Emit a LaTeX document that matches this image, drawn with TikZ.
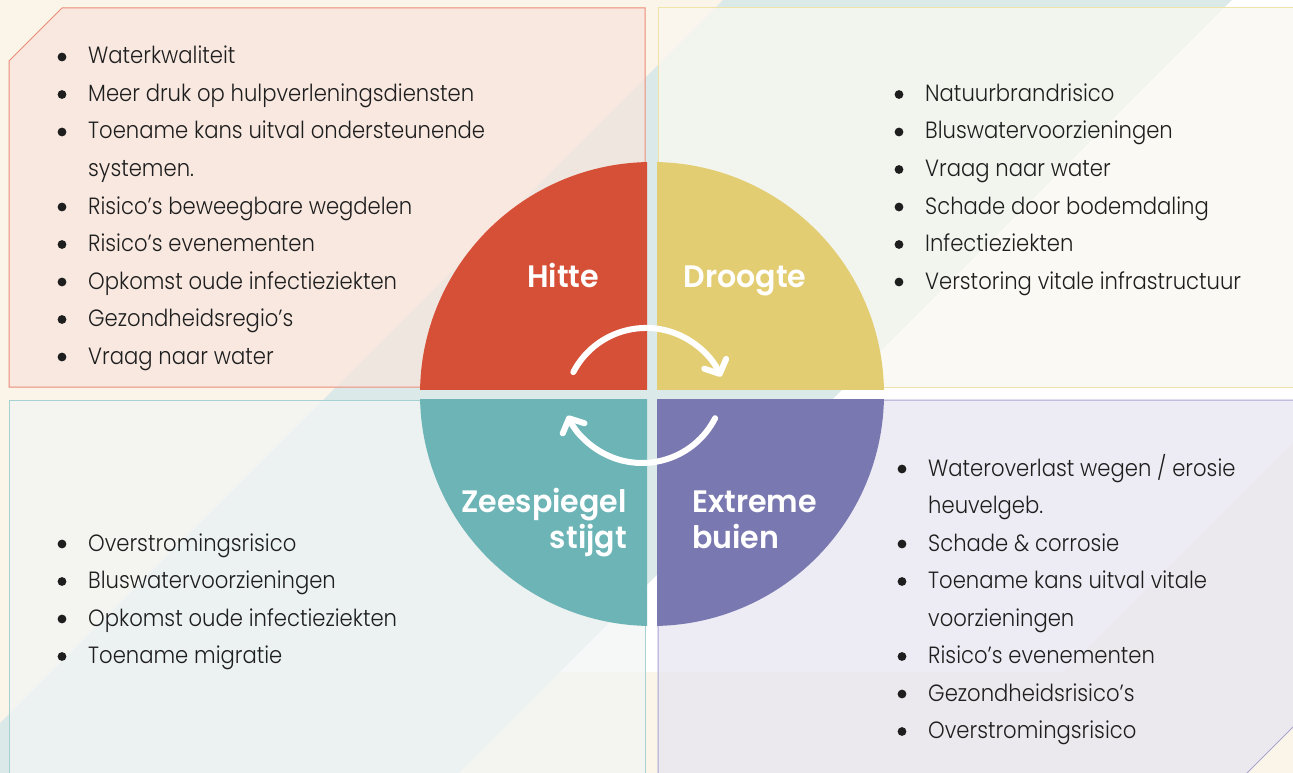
\documentclass[tikz,border=0pt]{standalone}
\usepackage{fontspec}
\setmainfont{Poppins}[UprightFont=* Light, BoldFont=* SemiBold, FakeStretch=0.9]
\newfontfamily\lblfont{Poppins}[UprightFont=* SemiBold, FakeStretch=0.97]
\usetikzlibrary{arrows.meta}
\definecolor{cream}{RGB}{251,244,232}
\definecolor{bandteal}{RGB}{219,233,233}
\definecolor{hitte}{RGB}{214,79,55}
\definecolor{droogte}{RGB}{227,205,115}
\definecolor{zee}{RGB}{108,180,182}
\definecolor{buien}{RGB}{122,120,176}
\definecolor{txt}{RGB}{30,30,30}
\definecolor{tlF}{RGB}{248,229,222}
\definecolor{tlB}{RGB}{236,140,118}
\definecolor{trF}{RGB}{250,248,240}
\definecolor{trB}{RGB}{239,227,168}
\definecolor{blF}{RGB}{242,246,245}
\definecolor{blB}{RGB}{166,210,210}
\definecolor{brF}{RGB}{231,230,241}
\definecolor{brB}{RGB}{169,164,208}
\newcommand\bitem[4]{%
  \fill[txt] (#2,#3-7) circle[radius=4.4];
  \node[item] (#1) at (#2+26,#3) {#4};}
\newcommand\citem[4]{%
  \node[item] (#1) at (#2+26,#3) {#4};}
\begin{document}
\begin{tikzpicture}[x=1pt,y=-1pt,
  item/.style={anchor=base west, inner sep=0pt, text=txt, font=\fontsize{23.5}{23.5}\selectfont},
  lbl/.style={inner sep=0pt, text=white, font=\lblfont\fontsize{31}{31}\selectfont},
  box/.style={line width=1pt, fill opacity=0.75},
  cyc/.style={draw=white, line width=6pt, line cap=round,
    -{Straight Barb[length=11pt,width=24pt,round]}}
]
\useasboundingbox (0,0) rectangle (1293,773);
% background
\fill[cream] (0,0) rectangle (1293,773);
\fill[bandteal] (723,0) -- (1232,0) -- (459,773) -- (0,773) -- (0,723) -- cycle;
\fill[white] (1232,0) -- (1293,0) -- (1293,443) -- (1064,672) -- (560,672) -- cycle;
% boxes
\path[box, draw=tlB, fill=tlF] (62,8) -- (645,8) -- (645,387) -- (9,387) -- (9,61) -- cycle;
\path[box, draw=trB, fill=trF] (1300,8) -- (658,8) -- (658,387) -- (1300,387);
\path[box, draw=blB, fill=blF] (9,780) -- (9,400) -- (645,400) -- (645,780);
\path[box, draw=brB, fill=brF] (658,780) -- (658,400) -- (1300,400) -- (1300,720) -- (1240,780);
% circle quadrants
\coordinate (c) at (652,394);
\begin{scope}\clip (0,0) rectangle (647,389); \fill[hitte] (c) circle[radius=232]; \end{scope}
\begin{scope}\clip (657,0) rectangle (1293,389); \fill[droogte] (c) circle[radius=232]; \end{scope}
\begin{scope}\clip (0,399) rectangle (647,773); \fill[zee] (c) circle[radius=232]; \end{scope}
\begin{scope}\clip (657,399) rectangle (1293,773); \fill[buien] (c) circle[radius=232]; \end{scope}
% labels
\node[lbl, anchor=base] (hitte) at (563,287) {Hitte};
\node[lbl, anchor=base] (droogte) at (745,287) {Droogte};
\node[lbl, anchor=base east] (zee1) at (627,512) {Zeespiegel};
\node[lbl, anchor=base east] (zee2) at (627,548) {stijgt};
\node[lbl, anchor=base west] (ext1) at (692,512) {Extreme};
\node[lbl, anchor=base west] (ext2) at (692,548) {buien};
% cycle arrows
\coordinate (a1) at (573.3,372.1);
\coordinate (a2) at (715.1,418.2);
\draw[cyc] (a1) arc[start angle=-152.5, end angle=-24, radius=82];
\draw[cyc] (a2) arc[start angle=27, end angle=155, radius=82];
% top-left list
\bitem{tl1}{62}{64}{Waterkwaliteit}
\bitem{tl2}{62}{101.5}{Meer druk op hulpverleningsdiensten}
\bitem{tl3}{62}{139}{Toename kans uitval ondersteunende}
\citem{tl3b}{62}{176.5}{systemen.}
\bitem{tl4}{62}{214}{Risico’s beweegbare wegdelen}
\bitem{tl5}{62}{251.5}{Risico’s evenementen}
\bitem{tl6}{62}{289}{Opkomst oude infectieziekten}
\bitem{tl7}{62}{326.5}{Gezondheidsregio’s}
\bitem{tl8}{62}{364}{Vraag naar water}
% top-right list
\bitem{tr1}{899}{101.5}{Natuurbrandrisico}
\bitem{tr2}{899}{139}{Bluswatervoorzieningen}
\bitem{tr3}{899}{176.5}{Vraag naar water}
\bitem{tr4}{899}{214}{Schade door bodemdaling}
\bitem{tr5}{899}{251.5}{Infectieziekten}
\bitem{tr6}{899}{289}{Verstoring vitale infrastructuur}
% bottom-left list
\bitem{bl1}{62}{551}{Overstromingsrisico}
\bitem{bl2}{62}{588.5}{Bluswatervoorzieningen}
\bitem{bl3}{62}{626}{Opkomst oude infectieziekten}
\bitem{bl4}{62}{663.5}{Toename migratie}
% bottom-right list
\bitem{br1}{902}{476}{Wateroverlast wegen / erosie}
\citem{br1b}{902}{513.5}{heuvelgeb.}
\bitem{br2}{902}{551}{Schade \& corrosie}
\bitem{br3}{902}{588.5}{Toename kans uitval vitale}
\citem{br3b}{902}{626}{voorzieningen}
\bitem{br4}{902}{663.5}{Risico’s evenementen}
\bitem{br5}{902}{701}{Gezondheidsrisico’s}
\bitem{br6}{902}{738.5}{Overstromingsrisico}
\end{tikzpicture}
\end{document}
